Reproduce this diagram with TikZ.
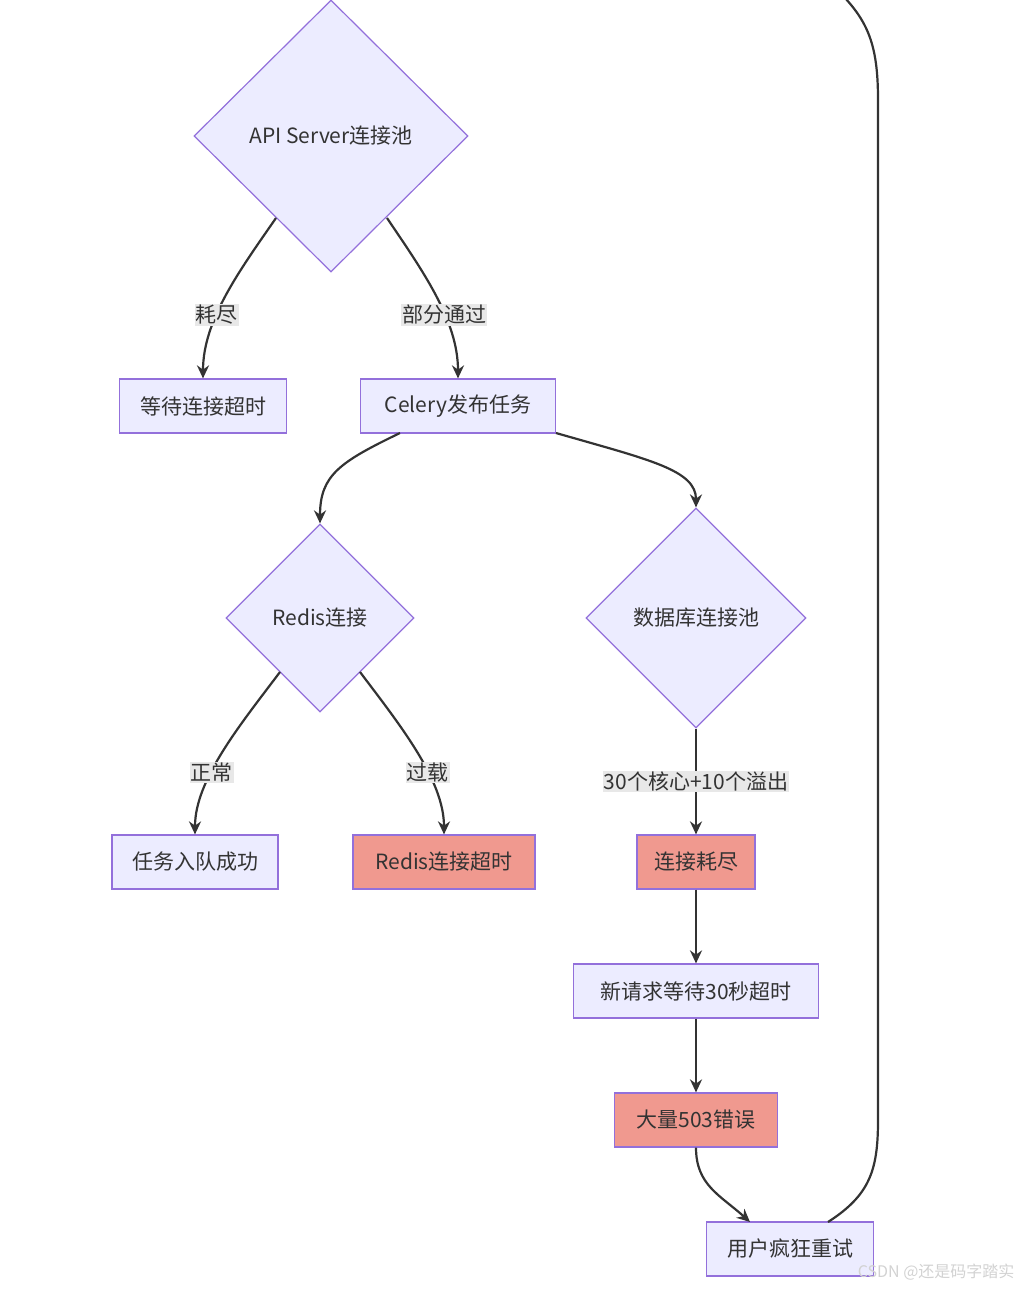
\documentclass[tikz,border=0pt]{standalone}
\usepackage{fontspec}
\setmainfont{Noto Sans CJK SC}
\usetikzlibrary{shapes.geometric,arrows.meta}
\definecolor{nfill}{HTML}{ECECFF}
\definecolor{nline}{HTML}{9370DB}
\definecolor{hot}{HTML}{F0998F}
\definecolor{edge}{HTML}{333333}
\definecolor{lbl}{HTML}{E8E8E8}
\begin{document}
\begin{tikzpicture}[x=1pt,y=-1pt,
  every node/.style={font=\fontsize{21}{24}\selectfont, text=edge},
  box/.style={draw=nline,fill=nfill,line width=1.2pt,minimum height=54pt,inner sep=0pt},
  hotbox/.style={box,fill=hot},
  dia/.style={draw=nline,fill=nfill,line width=1.2pt,diamond,inner sep=0pt},
  lab/.style={fill=lbl,inner sep=1pt},
  ar/.style={draw=edge,line width=2.2pt,-{Stealth[length=13pt,width=12pt]}},
  ln/.style={draw=edge,line width=2.2pt}]
\useasboundingbox (0,0) rectangle (1020,1290);
\node[dia,minimum width=274pt,minimum height=272pt] (api) at (331,136) {API Server连接池};
\node[box,minimum width=167pt] (wait) at (203,406) {等待连接超时};
\node[box,minimum width=195pt] (cel) at (458,406) {Celery发布任务};
\node[dia,minimum width=188pt,minimum height=188pt] (red) at (320,618) {Redis连接};
\node[dia,minimum width=220pt,minimum height=220pt] (db) at (696,618) {数据库连接池};
\node[box,minimum width=166pt] (ok) at (195,862) {任务入队成功};
\node[hotbox,minimum width=182pt] (rto) at (444,862) {Redis连接超时};
\node[hotbox,minimum width=118pt] (ex) at (696,862) {连接耗尽};
\node[box,minimum width=245pt] (nw) at (696,991) {新请求等待30秒超时};
\node[hotbox,minimum width=163pt] (e503) at (696,1120) {大量503错误};
\node[box,minimum width=167pt] (usr) at (790,1249) {用户疯狂重试};
\coordinate (top) at (845,-2);

\draw[ar] (276,218) .. controls (240,270) and (203,320) .. (wait.north) node[lab,pos=0.62] {耗尽};
\draw[ar] (387,218) .. controls (422,270) and (458,320) .. (cel.north) node[lab,pos=0.62] {部分通过};
\draw[ar] (400,433) .. controls (340,462) and (320,475) .. (red.north);
\draw[ar] (556,433) .. controls (650,460) and (696,470) .. (db.north);
\draw[ar] (280,672) .. controls (240,725) and (195,780) .. (ok.north) node[lab,pos=0.62] {正常};
\draw[ar] (360,672) .. controls (400,725) and (444,780) .. (rto.north) node[lab,pos=0.62] {过载};
\draw[ar] (db.south) -- (ex.north) node[lab,pos=0.5] {30个核心+10个溢出};
\draw[ar] (ex) -- (nw);
\draw[ar] (nw) -- (e503);
\draw[ar] (e503.south) .. controls (696,1185) and (720,1195) .. (750,1222);
\draw[ln] (828,1222) .. controls (870,1195) and (878,1170) .. (878,1120) -- (878,100) .. controls (878,50) and (870,25) .. (top);
\node[text=lightgray!70,font=\fontsize{16}{18}\selectfont,anchor=east] (wm) at (1018,1272) {CSDN @还是码字踏实};
\end{tikzpicture}
\end{document}
